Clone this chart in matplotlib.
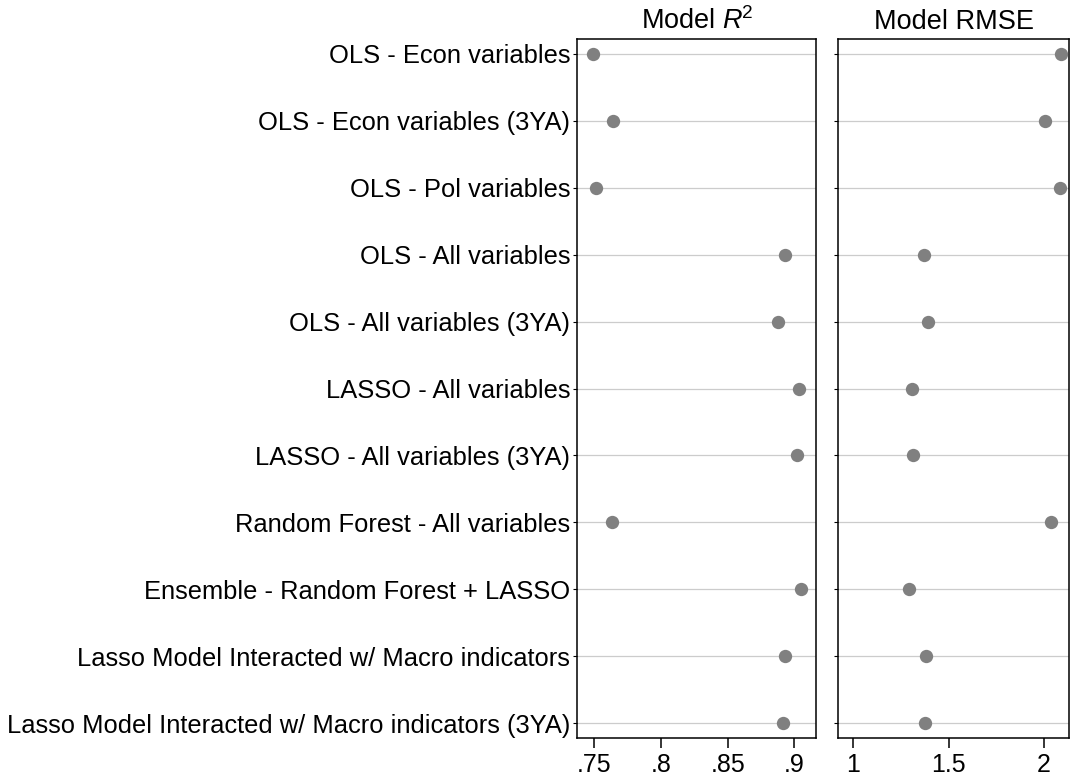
import matplotlib
matplotlib.use("Agg")
import matplotlib.pyplot as plt

plt.rcParams['font.family'] = ['Liberation Sans', 'DejaVu Sans']
plt.rcParams['mathtext.fontset'] = 'custom'
plt.rcParams['mathtext.rm'] = 'Liberation Sans'
plt.rcParams['mathtext.it'] = 'Liberation Sans:italic'

models = [
    "OLS - Econ variables",
    "OLS - Econ variables (3YA)",
    "OLS - Pol variables",
    "OLS - All variables",
    "OLS - All variables (3YA)",
    "LASSO - All variables",
    "LASSO - All variables (3YA)",
    "Random Forest - All variables",
    "Ensemble - Random Forest + LASSO",
    "Lasso Model Interacted w/ Macro indicators",
    "Lasso Model Interacted w/ Macro indicators (3YA)",
]
r2 = [0.7493, 0.7643, 0.7511, 0.8927, 0.8874, 0.9034, 0.9019, 0.7631, 0.9052, 0.8927, 0.8917]
rmse = [2.090, 2.007, 2.084, 1.371, 1.390, 1.306, 1.311, 2.034, 1.291, 1.380, 1.376]

r2_ticks = [0.75, 0.80, 0.85, 0.90]
r2_ticklabels = [".75", ".8", ".85", ".9"]
rmse_ticks = [1, 1.5, 2]
rmse_ticklabels = ["1", "1.5", "2"]

fig = plt.figure(figsize=(10.7, 7.8), dpi=100)
ax1 = fig.add_axes([0.5393, 0.0538, 0.2234, 0.8962])
ax2 = fig.add_axes([0.7832, 0.0538, 0.2159, 0.8962])

ypos = list(range(len(models)))
dot_color = "#808080"
grid_color = "#cccccc"

panels = [
    (ax1, r2, "Model $\\mathit{R}^{\\!\\mathrm{2}}$", r2_ticks, r2_ticklabels, (0.737, 0.9163)),
    (ax2, rmse, "Model RMSE", rmse_ticks, rmse_ticklabels, (0.92, 2.131)),
]

for ax, vals, title, ticks, ticklabels, xlim in panels:
    for y in ypos:
        ax.axhline(y, color=grid_color, lw=0.9, zorder=1)
    ax.scatter(vals, ypos, s=92, color=dot_color, zorder=3, linewidths=0)
    ax.set_xlim(*xlim)
    ax.set_ylim(len(models) - 1 + 0.224, -0.224)
    ax.set_xticks(ticks)
    ax.set_xticklabels(ticklabels)
    ax.set_title(title, fontsize=19.5, pad=7)
    ax.tick_params(axis='x', labelsize=18, length=7, width=1.1, pad=4)
    ax.tick_params(axis='y', labelsize=18.4, length=3, width=0.8, pad=2)
    for sp in ax.spines.values():
        sp.set_linewidth(1.1)
        sp.set_color("black")

ax1.set_yticks(ypos)
ax1.set_yticklabels(models)
ax2.set_yticks(ypos)
ax2.set_yticklabels([])

fig.savefig("out.png", dpi=100)
